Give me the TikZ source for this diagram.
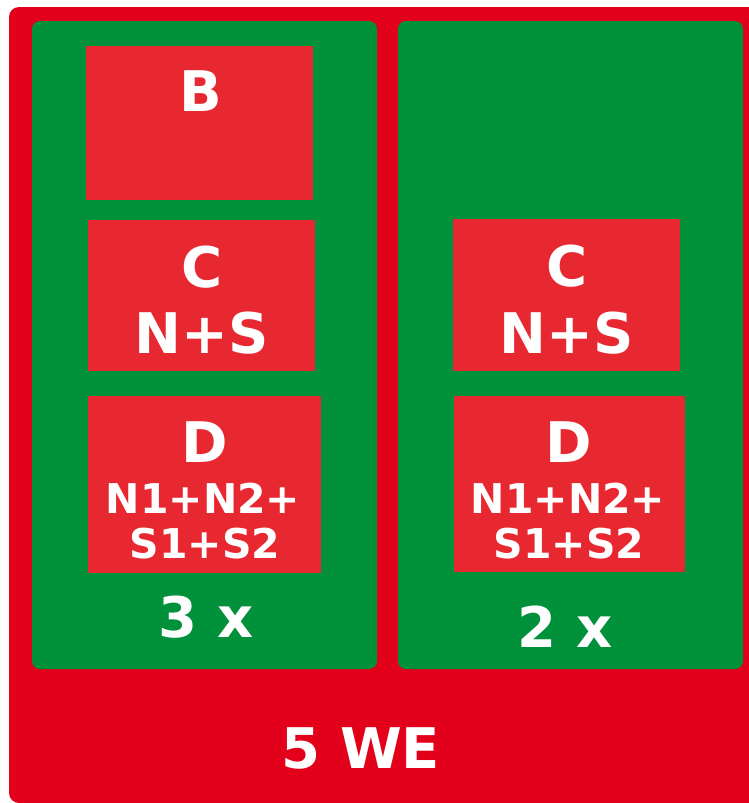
\documentclass[tikz,border=0pt]{standalone}
\usepackage{fontspec}
\setmainfont{DejaVu Sans}
\definecolor{outerred}{RGB}{226,0,26}
\definecolor{boxgreen}{RGB}{0,145,58}
\definecolor{innerred}{RGB}{232,40,48}
\tikzset{
  outerbox/.style={fill=outerred, draw=none, rounded corners=10pt},
  greenbox/.style={fill=boxgreen, draw=none, rounded corners=8pt},
  redbox/.style={fill=innerred, draw=none},
  bigtxt/.style={text=white, font=\bfseries\fontsize{56}{60}\selectfont, anchor=base, inner sep=0pt},
  smalltxt/.style={text=white, font=\bfseries\fontsize{41}{45}\selectfont, anchor=base, inner sep=0pt}
}
\begin{document}
\begin{tikzpicture}[x=1pt,y=-1pt]
\useasboundingbox (0,0) rectangle (749,803);
\fill[outerbox] (9,7) rectangle (765,803);
% green panels
\fill[greenbox] (32,21) rectangle (377,669);
\fill[greenbox] (398,21) rectangle (743,669);
% left red boxes
\fill[redbox] (86,46) rectangle (313,200);
\fill[redbox] (88,220) rectangle (315,371);
\fill[redbox] (88,396) rectangle (321,573);
% right red boxes
\fill[redbox] (453,219) rectangle (680,371);
\fill[redbox] (454,396) rectangle (685,572);
% left texts
\node[bigtxt] (lb) at (201,111) {B};
\node[bigtxt] (lc) at (202,287) {C};
\node[bigtxt] (lns) at (202,353) {N+S};
\node[bigtxt] (ld) at (205,462) {D};
\node[smalltxt] (ln) at (203,513) {N1+N2+};
\node[smalltxt] (ls) at (205,558) {S1+S2};
\node[bigtxt] (l3) at (206,637) {3 x};
% right texts
\node[bigtxt] (rc) at (567,286) {C};
\node[bigtxt] (rns) at (567,353) {N+S};
\node[bigtxt] (rd) at (569,462) {D};
\node[smalltxt] (rn) at (568,513) {N1+N2+};
\node[smalltxt] (rs) at (569,558) {S1+S2};
\node[bigtxt] (r2) at (565,647) {2 x};
% bottom
\node[bigtxt] (we) at (361,768) {5 WE};
\end{tikzpicture}
\end{document}
